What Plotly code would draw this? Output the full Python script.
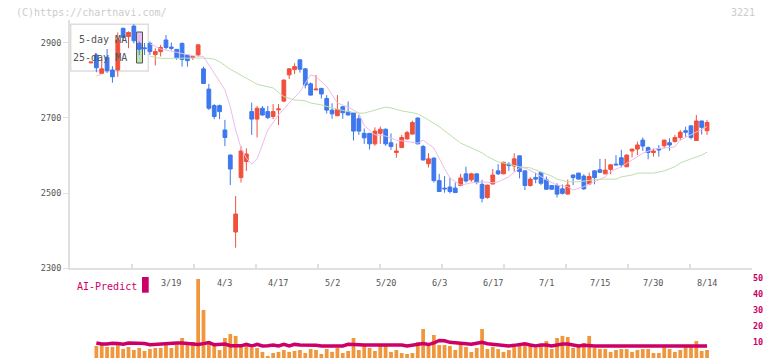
import numpy as np
import plotly.graph_objects as go

# ---------------- data ----------------
dates = ["2/26", "2/27", "2/28", "3/3", "3/4", "3/5", "3/6", "3/7", "3/10", "3/11",
         "3/12", "3/13", "3/14", "3/17", "3/18", "3/19", "3/21", "3/24", "3/25", "3/26",
         "3/27", "3/28", "3/31", "4/1", "4/2", "4/3", "4/4", "4/7", "4/8", "4/9",
         "4/10", "4/11", "4/14", "4/15", "4/16", "4/17", "4/18", "4/21", "4/22", "4/23",
         "4/24", "4/25", "4/28", "4/30", "5/1", "5/2", "5/7", "5/8", "5/9", "5/12",
         "5/13", "5/14", "5/15", "5/16", "5/19", "5/20", "5/21", "5/22", "5/23", "5/26",
         "5/27", "5/28", "5/29", "5/30", "6/2", "6/3", "6/4", "6/5", "6/6", "6/9",
         "6/10", "6/11", "6/12", "6/13", "6/16", "6/17", "6/18", "6/19", "6/20", "6/23",
         "6/24", "6/25", "6/26", "6/27", "6/30", "7/1", "7/2", "7/3", "7/4", "7/7",
         "7/8", "7/9", "7/10", "7/11", "7/14", "7/15", "7/16", "7/17", "7/18", "7/22",
         "7/23", "7/24", "7/25", "7/28", "7/29", "7/30", "7/31", "8/1", "8/4", "8/5",
         "8/6", "8/7", "8/8", "8/12", "8/13", "8/14"]

opens = [2847, 2868, 2819, 2862, 2828, 2828, 2939, 2917, 2945, 2899,
         2887, 2899, 2869, 2877, 2908, 2889, 2883, 2899, 2868, 2861,
         2868, 2831, 2777, 2733, 2733, 2668, 2601, 2396, 2541, 2584,
         2717, 2697, 2726, 2717, 2704, 2722, 2745, 2815, 2829, 2855,
         2831, 2791, 2775, 2779, 2752, 2721, 2706, 2730, 2717, 2714,
         2698, 2659, 2659, 2631, 2659, 2670, 2634, 2608, 2621, 2644,
         2657, 2700, 2624, 2578, 2593, 2533, 2513, 2516, 2513, 2520,
         2551, 2535, 2551, 2523, 2488, 2524, 2559, 2551, 2577, 2572,
         2599, 2559, 2520, 2541, 2555, 2535, 2520, 2520, 2511, 2497,
         2548, 2553, 2545, 2524, 2559, 2562, 2551, 2563, 2577, 2594,
         2570, 2612, 2617, 2641, 2621, 2608, 2618, 2626, 2634, 2637,
         2648, 2666, 2679, 2640, 2692, 2666]
highs = [2850, 2872, 2855, 2884, 2838, 2928, 2941, 2931, 2950, 2904,
         2900, 2904, 2886, 2895, 2921, 2901, 2884, 2901, 2870, 2866,
         2897, 2837, 2791, 2737, 2736, 2695, 2603, 2492, 2625, 2619,
         2741, 2732, 2732, 2732, 2737, 2737, 2803, 2833, 2846, 2857,
         2833, 2795, 2815, 2780, 2761, 2739, 2761, 2731, 2744, 2716,
         2708, 2672, 2660, 2675, 2677, 2672, 2659, 2632, 2655, 2666,
         2693, 2701, 2628, 2606, 2595, 2551, 2545, 2541, 2528, 2551,
         2570, 2554, 2552, 2535, 2522, 2564, 2577, 2583, 2582, 2606,
         2600, 2560, 2542, 2554, 2556, 2544, 2521, 2526, 2523, 2536,
         2549, 2554, 2550, 2554, 2560, 2591, 2591, 2577, 2601, 2615,
         2603, 2618, 2637, 2648, 2624, 2619, 2628, 2642, 2646, 2655,
         2668, 2677, 2680, 2708, 2693, 2695]
lows = [2846, 2822, 2818, 2820, 2794, 2810, 2908, 2886, 2899, 2868,
        2868, 2868, 2840, 2864, 2883, 2881, 2855, 2837, 2837, 2855,
        2864, 2792, 2721, 2697, 2697, 2625, 2521, 2354, 2528, 2559,
        2655, 2648, 2706, 2697, 2697, 2681, 2742, 2804, 2817, 2821,
        2779, 2760, 2774, 2752, 2712, 2698, 2705, 2698, 2707, 2640,
        2655, 2631, 2616, 2626, 2631, 2626, 2615, 2594, 2620, 2643,
        2656, 2630, 2587, 2568, 2528, 2503, 2501, 2499, 2500, 2518,
        2528, 2530, 2523, 2475, 2485, 2523, 2548, 2550, 2559, 2557,
        2539, 2508, 2517, 2526, 2521, 2509, 2509, 2488, 2496, 2496,
        2521, 2536, 2508, 2521, 2523, 2554, 2550, 2550, 2574, 2568,
        2569, 2595, 2601, 2612, 2590, 2597, 2597, 2619, 2613, 2635,
        2641, 2650, 2643, 2639, 2656, 2655]
closes = [2849, 2834, 2831, 2826, 2810, 2908, 2915, 2928, 2906, 2883,
          2885, 2877, 2877, 2888, 2888, 2886, 2861, 2856, 2853, 2864,
          2895, 2792, 2726, 2704, 2717, 2648, 2564, 2444, 2612, 2604,
          2697, 2726, 2708, 2701, 2717, 2724, 2801, 2831, 2837, 2830,
          2788, 2761, 2777, 2764, 2721, 2711, 2723, 2714, 2708, 2665,
          2665, 2647, 2631, 2665, 2670, 2631, 2624, 2612, 2648, 2661,
          2688, 2631, 2588, 2591, 2533, 2504, 2511, 2504, 2501, 2540,
          2532, 2551, 2528, 2486, 2521, 2548, 2551, 2582, 2573, 2591,
          2557, 2520, 2537, 2537, 2526, 2510, 2510, 2497, 2499, 2521,
          2541, 2537, 2511, 2544, 2541, 2555, 2561, 2575, 2575, 2575,
          2601, 2617, 2628, 2625, 2608, 2612, 2615, 2641, 2628, 2648,
          2662, 2662, 2648, 2692, 2675, 2688]

# 5-day / 25-day moving averages (day index, value)
ma5_pos = [1, 2, None, 11, 13, 16, 19, 21, 23, 25,
           26, 27, 28, 29, 30, 31, 33, 35, 37, 39,
           41, 42, 44, 45, 46, 48, 50, 51, 53, 55,
           57, 59, 61, 62, 64, 66, 67, 69, 71, 73,
           75, 76, 78, 80, 81, 83, 85, 87, 89, 90,
           92, 94, 96, 97, 99, 101, 103, 105, 107, 109,
           110, 112, 114, 115]
ma5_val = [2812, 2817, None, 2898, 2884, 2875, 2866, 2864, 2820, 2775,
           2730, 2668, 2620, 2593, 2577, 2590, 2668, 2708, 2740, 2770,
           2815, 2810, 2784, 2761, 2740, 2729, 2713, 2680, 2655, 2652,
           2641, 2637, 2633, 2641, 2620, 2565, 2540, 2521, 2527, 2530,
           2527, 2530, 2543, 2567, 2567, 2553, 2535, 2521, 2517, 2508,
           2517, 2530, 2543, 2557, 2570, 2588, 2606, 2617, 2620, 2623,
           2641, 2655, 2668, 2677]
ma25_pos = [11, 13, 15, 18, 20, 22, 23, 24, 26, 29,
            31, 34, 36, 38, 40, 41, 43, 45, 48, 50,
            51, 53, 55, 56, 58, 60, 61, 63, 65, 67,
            69, 71, 73, 74, 76, 78, 80, 82, 84, 86,
            87, 89, 91, 93, 95, 98, 99, 101, 102, 105,
            107, 109, 110, 112, 114, 115]
ma25_val = [2865, 2859, 2859, 2860, 2860, 2859, 2857, 2850, 2830, 2806,
            2790, 2780, 2757, 2748, 2746, 2740, 2735, 2727, 2717, 2713,
            2713, 2721, 2729, 2727, 2719, 2714, 2711, 2695, 2677, 2655,
            2633, 2620, 2607, 2597, 2583, 2577, 2570, 2567, 2557, 2545,
            2537, 2530, 2530, 2533, 2537, 2537, 2543, 2548, 2553, 2553,
            2559, 2570, 2580, 2591, 2601, 2609]

volume = [None, 7.5, 8.5, 6.9, 6.9, 8.5, 5.6, 6.9, 5.0, 6.3,
          4.4, 5.6, 6.3, 6.3, 8.5, 6.3, 8.5, 12.5, 8.1, 10.0,
          49.4, 30.0, 10.6, 8.1, 5.0, 12.5, 15.0, 13.8, 8.8, 8.8,
          6.3, 6.3, 3.8, 1.3, 3.1, 3.8, 5.0, 3.8, 4.4, 5.0,
          3.1, 5.6, 5.0, 2.5, 5.6, 3.8, 6.3, 3.1, 4.4, 12.5,
          5.0, 7.5, 6.3, 4.4, 7.5, 8.8, 3.8, 5.0, 3.1, 2.5,
          3.1, 10.0, 18.1, 8.1, 14.4, 8.1, 8.1, 7.5, 5.0, 8.8,
          6.9, 3.8, 6.3, 18.1, 5.6, 6.9, 5.6, 3.8, 5.0, 6.9,
          7.5, 9.4, 7.5, 6.3, 7.5, 10.6, 5.6, 12.5, 13.8, 13.1,
          6.3, 6.9, 9.4, 13.8, 6.3, 5.6, 5.6, 3.8, 5.0, 5.6,
          5.6, 3.8, 5.0, 5.6, 5.6, 3.1, 3.1, 6.9, 5.6, 3.8,
          5.0, 6.9, 6.9, 10.6, 4.4, 5.0]
ai_predict = [None, 9.4, 8.75, 8.75, 9.2, 9.0, 8.6, 9.4, 9.4, 9.4,
              9.0, 8.3, 8.6, 8.75, 9.2, 9.4, 9.4, 9.4, 9.0, 8.6,
              8.4, 9.0, 9.6, 8.3, 8.75, 8.75, 7.7, 7.5, 7.6, 8.5,
              7.5, 8.5, 7.5, 7.7, 8.1, 7.5, 8.5, 7.5, 8.5, 8.1,
              8.1, 8.1, 8.0, 7.5, 7.5, 7.5, 7.5, 7.5, 8.6, 8.3,
              8.1, 8.1, 8.1, 8.1, 8.1, 8.6, 8.1, 8.6, 8.1, 7.5,
              8.1, 8.6, 9.0, 8.4, 9.4, 11.0, 10.8, 9.8, 9.4, 9.4,
              8.6, 8.6, 9.2, 9.8, 8.9, 8.6, 8.4, 7.8, 7.5, 7.9,
              8.5, 8.9, 8.1, 7.5, 8.1, 8.1, 7.5, 8.1, 8.75, 8.75,
              8.1, 7.5, 7.9, 7.5, 7.5, 7.5, 7.5, 7.5, 7.5, 7.5,
              7.5, 7.5, 7.5, 7.5, 7.5, 7.5, 7.5, 7.5, 7.5, 7.5,
              7.5, 7.5, 7.5, 7.5, 7.5, 7.5]

date_labels = ["3/19", "4/3", "4/17", "5/2", "5/20", "6/3", "6/17", "7/1", "7/15", "7/30", "8/14"]
price_ticks = [2300, 2500, 2700, 2900]
volume_ticks = [0, 10, 20, 30, 40, 50]

# ---------------- styling ----------------
RED = "#f0503c"
BLUE = "#3d78ee"
ORANGE = "#f0963c"
MAGENTA = "#cc0066"
PINK = "#ebbdeb"
GREEN = "#bde0ad"
AXIS = "#e0e0e0"
MONO = "DejaVu Sans Mono"

# the page places the figure 8px in from the window's top-left corner
OFF = 8
W, H = 772 - OFF, 361 - OFF
ML, MR, MT, MB = 70 - OFF, 20, 20 - OFF, 3
PW, PH = W - ML - MR, H - MT - MB


def px(xp):
    """window pixel x -> paper coordinate"""
    return (xp - OFF - ML) / PW


def py(yp):
    """window pixel y -> paper coordinate"""
    return (H - MB - (yp - OFF)) / PH


idx = list(range(len(dates)))
x_range = [-3.92, 123.39]

fig = go.Figure()

fig.add_trace(go.Scatter(x=ma25_pos, y=ma25_val, mode="lines",
                         line=dict(color=GREEN, width=1), hoverinfo="skip",
                         showlegend=False, xaxis="x", yaxis="y"))
fig.add_trace(go.Scatter(x=ma5_pos, y=ma5_val, mode="lines",
                         line=dict(color=PINK, width=1), hoverinfo="skip",
                         showlegend=False, xaxis="x", yaxis="y"))
fig.add_trace(go.Candlestick(
    x=idx, open=opens, high=highs, low=lows, close=closes,
    increasing=dict(line=dict(color=RED, width=1), fillcolor=RED),
    decreasing=dict(line=dict(color=BLUE, width=1), fillcolor=BLUE),
    whiskerwidth=0, hoverinfo="skip", showlegend=False, xaxis="x", yaxis="y"))

fig.add_trace(go.Bar(x=idx, y=volume, marker=dict(color=ORANGE, line=dict(width=0)),
                     hoverinfo="skip", showlegend=False, xaxis="x2", yaxis="y2"))
fig.add_trace(go.Scatter(x=idx, y=ai_predict, mode="lines",
                         line=dict(color=MAGENTA, width=3.5), hoverinfo="skip",
                         showlegend=False, xaxis="x2", yaxis="y2"))

annotations = [
    dict(text="(C)https://chartnavi.com/", xref="paper", yref="paper",
         x=px(14), y=py(12), xanchor="left", yanchor="middle", showarrow=False,
         font=dict(family=MONO, size=10, color="#cccccc")),
    dict(text="3221", xref="paper", yref="paper", x=px(757), y=py(12),
         xanchor="right", yanchor="middle", showarrow=False,
         font=dict(family=MONO, size=10, color="#cccccc")),
    dict(text="5-day MA", xref="paper", yref="paper", x=px(129), y=py(40),
         xanchor="right", yanchor="middle", showarrow=False,
         font=dict(family=MONO, size=10, color="#555555")),
    dict(text="25-day MA", xref="paper", yref="paper", x=px(129), y=py(57),
         xanchor="right", yanchor="middle", showarrow=False,
         font=dict(family=MONO, size=10, color="#555555")),
    dict(text="AI-Predict", xref="paper", yref="paper", x=px(75), y=py(286),
         xanchor="left", yanchor="middle", showarrow=False,
         font=dict(family=MONO, size=10, color=MAGENTA)),
]
for lab in date_labels:
    annotations.append(dict(text=lab, xref="x2", yref="paper", x=dates.index(lab), y=py(283),
                            xanchor="center", yanchor="middle", showarrow=False,
                            font=dict(family=MONO, size=8.5, color="#555555")))

shapes = [
    dict(type="rect", xref="paper", yref="paper", x0=px(70.7), x1=px(148.3), y0=py(71), y1=py(24.3),
         line=dict(color="#dddddd", width=1.5), fillcolor="white", layer="below"),
    dict(type="rect", xref="paper", yref="paper", x0=px(136.5), x1=px(142.5), y0=py(48), y1=py(32),
         line=dict(color="#555555", width=1), fillcolor=PINK, layer="below"),
    dict(type="rect", xref="paper", yref="paper", x0=px(136.5), x1=px(142.5), y0=py(63), y1=py(48),
         line=dict(color="#555555", width=1), fillcolor=GREEN, layer="below"),
    dict(type="rect", xref="paper", yref="paper", x0=px(142), x1=px(148.7), y0=py(292.7), y1=py(277),
         line=dict(width=0), fillcolor=MAGENTA, layer="above"),
]

fig.update_layout(
    width=W, height=H, margin=dict(l=ML, r=MR, t=MT, b=MB, autoexpand=False),
    paper_bgcolor="white", plot_bgcolor="white",
    boxgap=0.3, boxgroupgap=0, bargap=0.3,
    showlegend=False,
    xaxis=dict(domain=[0, 1], range=x_range, anchor="y", showline=True, linecolor=AXIS, linewidth=2,
               ticks="inside", ticklen=4, tickcolor=AXIS, tickwidth=1.5,
               tickmode="array", tickvals=list(np.linspace(x_range[0], x_range[1], 12)),
               showticklabels=False, showgrid=False, zeroline=False, automargin=False,
               rangeslider=dict(visible=False)),
    yaxis=dict(domain=[py(268), 1], range=[2300, 2961.3], anchor="x", showline=True,
               linecolor=AXIS, linewidth=2, ticks="outside", ticklen=5, tickcolor=AXIS,
               tickmode="array", tickvals=price_ticks, showgrid=False, zeroline=False,
               automargin=False,
               tickfont=dict(family=MONO, size=8.5, color="#555555")),
    xaxis2=dict(domain=[0, 1], range=x_range, anchor="y2", visible=False, automargin=False),
    yaxis2=dict(domain=[0, py(278)], range=[0, 50], anchor="x2", side="right",
                showline=False, showgrid=False, zeroline=False, ticks="",
                tickmode="array", tickvals=volume_ticks, automargin=False,
                tickfont=dict(family=MONO, size=8.5, color=MAGENTA, weight="bold")),
    annotations=annotations, shapes=shapes,
)

fig.write_html("out.html")
